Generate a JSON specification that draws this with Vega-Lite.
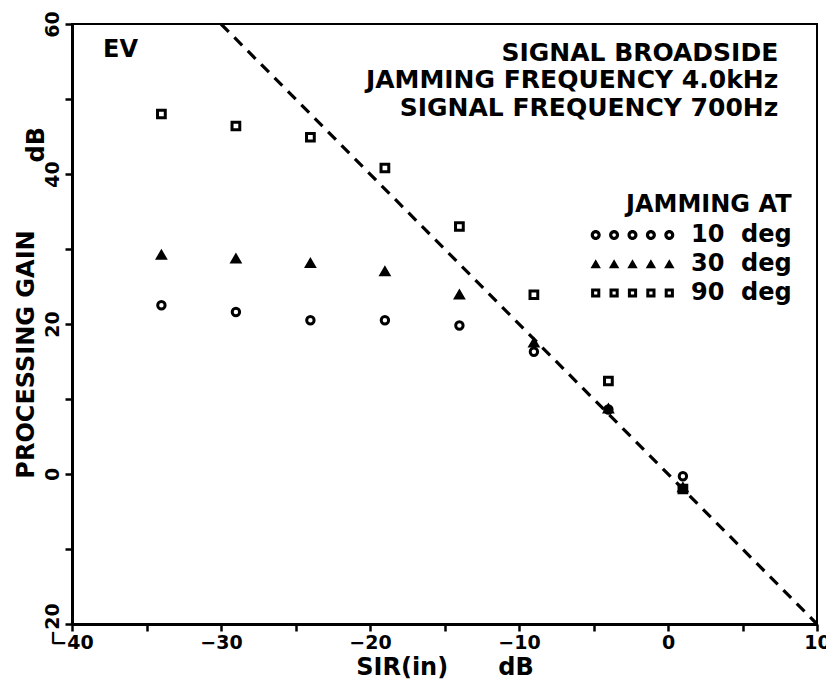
{
  "$schema": "https://vega.github.io/schema/vega-lite/v6.json",
  "width": 745,
  "height": 600,
  "autosize": {"type": "none"},
  "padding": {"left": 72, "top": 24, "right": 9, "bottom": 61},
  "background": "white",
  "config": {
    "font": "DejaVu Sans",
    "view": {"stroke": "black", "strokeWidth": 2},
    "axis": {
      "grid": false,
      "domainColor": "black",
      "domainWidth": 3,
      "tickColor": "black",
      "tickWidth": 2.5,
      "tickSize": 7,
      "labelColor": "black",
      "labelFont": "DejaVu Sans",
      "labelFontWeight": "bold",
      "labelFontSize": 19,
      "labelFlush": false,
      "labelOverlap": false,
      "titleColor": "black",
      "titleFont": "DejaVu Sans",
      "titleFontWeight": "bold",
      "titleFontSize": 24
    },
    "legend": {
      "labelFont": "DejaVu Sans",
      "labelFontWeight": "bold",
      "labelFontSize": 24,
      "labelColor": "black",
      "titleFont": "DejaVu Sans",
      "titleFontWeight": "bold",
      "titleFontSize": 24,
      "titleColor": "black"
    },
    "text": {"font": "DejaVu Sans", "fontWeight": "bold", "color": "black"}
  },
  "datasets": {
    "gain": [
      {"sir": -34, "gain": 22.5, "jamming": "10 deg"},
      {"sir": -29, "gain": 21.6, "jamming": "10 deg"},
      {"sir": -24, "gain": 20.5, "jamming": "10 deg"},
      {"sir": -19, "gain": 20.5, "jamming": "10 deg"},
      {"sir": -14, "gain": 19.8, "jamming": "10 deg"},
      {"sir": -9, "gain": 16.3, "jamming": "10 deg"},
      {"sir": -4, "gain": 8.6, "jamming": "10 deg"},
      {"sir": 1, "gain": -0.3, "jamming": "10 deg"},
      {"sir": -34, "gain": 29.2, "jamming": "30 deg"},
      {"sir": -29, "gain": 28.7, "jamming": "30 deg"},
      {"sir": -24, "gain": 28.1, "jamming": "30 deg"},
      {"sir": -19, "gain": 27.0, "jamming": "30 deg"},
      {"sir": -14, "gain": 23.9, "jamming": "30 deg"},
      {"sir": -9, "gain": 17.5, "jamming": "30 deg"},
      {"sir": -4, "gain": 8.7, "jamming": "30 deg"},
      {"sir": 1, "gain": -1.8, "jamming": "30 deg"},
      {"sir": -34, "gain": 48.0, "jamming": "90 deg"},
      {"sir": -29, "gain": 46.4, "jamming": "90 deg"},
      {"sir": -24, "gain": 44.9, "jamming": "90 deg"},
      {"sir": -19, "gain": 40.8, "jamming": "90 deg"},
      {"sir": -14, "gain": 33.0, "jamming": "90 deg"},
      {"sir": -9, "gain": 23.9, "jamming": "90 deg"},
      {"sir": -4, "gain": 12.4, "jamming": "90 deg"},
      {"sir": 1, "gain": -2.0, "jamming": "90 deg"}
    ],
    "equalGain": [
      {"sir": -30, "gain": 60},
      {"sir": 10, "gain": -20}
    ]
  },
  "layer": [
    {
      "data": {"name": "equalGain"},
      "mark": {"type": "line", "color": "black", "strokeWidth": 3.2, "strokeDash": [11, 8]},
      "encoding": {
        "x": {
          "field": "sir",
          "type": "quantitative",
          "scale": {"domain": [-40, 10], "nice": false, "zero": false},
          "axis": {
            "title": "SIR(in)\u00a0\u00a0\u00a0\u00a0\u00a0\u00a0dB",
            "values": [-40, -35, -30, -25, -20, -15, -10, -5, 0, 5, 10],
            "labelExpr": "datum.value % 10 === 0 ? datum.label : ''",
            "labelBaseline": "alphabetic",
            "labelPadding": 17,
            "titleBaseline": "alphabetic",
            "titleY": 50
          }
        },
        "y": {
          "field": "gain",
          "type": "quantitative",
          "scale": {"domain": [-20, 60], "nice": false, "zero": false},
          "axis": {
            "title": "PROCESSING GAIN",
            "values": [-20, -15, -10, -5, 0, 5, 10, 15, 20, 25, 30, 35, 40, 45, 50, 55, 60],
            "labelExpr": "datum.value % 20 === 0 ? datum.label : ''",
            "labelAngle": 270,
            "labelAlign": "center",
            "labelBaseline": "alphabetic",
            "labelPadding": 7,
            "titleAngle": 270,
            "titleAlign": "center",
            "titleBaseline": "alphabetic",
            "titleX": -39,
            "titleY": 330
          }
        }
      }
    },
    {
      "data": {"name": "gain"},
      "mark": {"type": "point", "filled": true, "stroke": "black", "strokeWidth": 3, "opacity": 1},
      "encoding": {
        "x": {"field": "sir", "type": "quantitative"},
        "y": {"field": "gain", "type": "quantitative"},
        "shape": {
          "field": "jamming",
          "type": "nominal",
          "scale": {"domain": ["10 deg", "30 deg", "90 deg"], "range": ["circle", "triangle-up", "square"]},
          "legend": null
        },
        "fill": {
          "field": "jamming",
          "type": "nominal",
          "scale": {"domain": ["10 deg", "30 deg", "90 deg"], "range": ["transparent", "black", "transparent"]},
          "legend": null
        },
        "size": {
          "field": "jamming",
          "type": "ordinal",
          "scale": {"domain": ["10 deg", "30 deg", "90 deg"], "range": [55, 60, 49]},
          "legend": null
        }
      }
    },
    {
      "data": {"name": "gain"},
      "mark": {"type": "point", "filled": true, "color": "black", "opacity": 0},
      "encoding": {
        "x": {"field": "sir", "type": "quantitative"},
        "y": {"field": "gain", "type": "quantitative"},
        "shape": {
          "field": "jamming",
          "type": "nominal",
          "scale": {
            "domain": ["10 deg", "30 deg", "90 deg"],
            "range": [
              "M-10.45,0 A1.25,1.25 0 1,1 -7.95,0 A1.25,1.25 0 1,1 -10.45,0 Z M-9.65,0 A0.45,0.45 0 1,0 -8.75,0 A0.45,0.45 0 1,0 -9.65,0 Z M-5.85,0 A1.25,1.25 0 1,1 -3.35,0 A1.25,1.25 0 1,1 -5.85,0 Z M-5.05,0 A0.45,0.45 0 1,0 -4.15,0 A0.45,0.45 0 1,0 -5.05,0 Z M-1.25,0 A1.25,1.25 0 1,1 1.25,0 A1.25,1.25 0 1,1 -1.25,0 Z M-0.45,0 A0.45,0.45 0 1,0 0.45,0 A0.45,0.45 0 1,0 -0.45,0 Z M3.35,0 A1.25,1.25 0 1,1 5.85,0 A1.25,1.25 0 1,1 3.35,0 Z M4.15,0 A0.45,0.45 0 1,0 5.05,0 A0.45,0.45 0 1,0 4.15,0 Z M7.95,0 A1.25,1.25 0 1,1 10.45,0 A1.25,1.25 0 1,1 7.95,0 Z M8.75,0 A0.45,0.45 0 1,0 9.65,0 A0.45,0.45 0 1,0 8.75,0 Z",
              "M-10.5,1.05 L-9.2,-1.2 L-7.9,1.05 Z M-5.9,1.05 L-4.6,-1.2 L-3.3,1.05 Z M-1.3,1.05 L0,-1.2 L1.3,1.05 Z M3.3,1.05 L4.6,-1.2 L5.9,1.05 Z M7.9,1.05 L9.2,-1.2 L10.5,1.05 Z",
              "M-10.35,-1.15 H-8.05 V1.15 H-10.35 Z M-9.6,-0.4 V0.4 H-8.8 V-0.4 Z M-5.75,-1.15 H-3.45 V1.15 H-5.75 Z M-5,-0.4 V0.4 H-4.2 V-0.4 Z M-1.15,-1.15 H1.15 V1.15 H-1.15 Z M-0.4,-0.4 V0.4 H0.4 V-0.4 Z M3.45,-1.15 H5.75 V1.15 H3.45 Z M4.2,-0.4 V0.4 H5 V-0.4 Z M8.05,-1.15 H10.35 V1.15 H8.05 Z M8.8,-0.4 V0.4 H9.6 V-0.4 Z"
            ]
          },
          "legend": {
            "title": "JAMMING AT",
            "orient": "none",
            "legendX": 548.5,
            "legendY": 169,
            "labelExpr": "replace(datum.label, ' ', '\u00a0\u00a0')",
            "symbolSize": 64,
            "symbolOpacity": 1,
            "symbolFillColor": "black",
            "symbolStrokeWidth": 0,
            "labelOffset": 46.5,
            "padding": 0,
            "rowPadding": 5,
            "titlePadding": 6,
            "titleAnchor": "end"
          }
        }
      }
    },
    {
      "data": {"values": [{}]},
      "mark": {"type": "text", "text": "EV", "align": "left", "baseline": "alphabetic", "fontSize": 24},
      "encoding": {
        "x": {"datum": -37.92, "type": "quantitative"},
        "y": {"datum": 55.6, "type": "quantitative"}
      }
    },
    {
      "data": {"values": [{}]},
      "mark": {
        "type": "text",
        "text": ["SIGNAL BROADSIDE", "JAMMING FREQUENCY 4.0kHz", "SIGNAL FREQUENCY 700Hz"],
        "align": "right",
        "baseline": "alphabetic",
        "lineHeight": 27.5,
        "fontSize": 25
      },
      "encoding": {
        "x": {"datum": 7.4, "type": "quantitative"},
        "y": {"datum": 55.07, "type": "quantitative"}
      }
    },
    {
      "data": {"values": [{}]},
      "mark": {"type": "text", "text": "dB", "angle": 270, "align": "center", "baseline": "alphabetic", "fontSize": 24},
      "encoding": {
        "x": {"datum": -41.88, "type": "quantitative"},
        "y": {"datum": 43.9, "type": "quantitative"}
      }
    }
  ],
  "resolve": {"scale": {"shape": "independent"}}
}
